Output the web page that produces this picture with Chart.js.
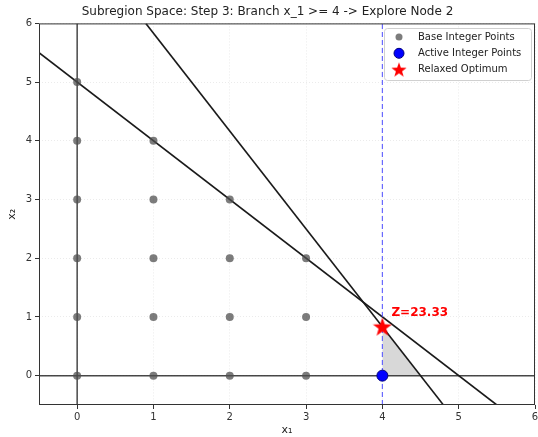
<!DOCTYPE html>
<html>
<head>
<meta charset="utf-8">
<script src="https://cdn.jsdelivr.net/npm/chart.js@4"></script>
<style>
  html, body { margin: 0; padding: 0; background: #fff; }
  #wrap { width: 538px; height: 437px; position: relative; }
</style>
</head>
<body>
<div id="wrap"><canvas id="chart"></canvas></div>
<script>
// Tick labels
const xTicks = [0, 1, 2, 3, 4, 5, 6];
const yTicks = [0, 1, 2, 3, 4, 5, 6];

// Base integer points (feasible lattice)
const baseX = [0, 0, 0, 0, 0, 0, 1, 1, 1, 1, 1, 2, 2, 2, 2, 3, 3, 3];
const baseY = [0, 1, 2, 3, 4, 5, 0, 1, 2, 3, 4, 0, 1, 2, 3, 0, 1, 2];

// Active integer points in this subregion
const activeX = [4];
const activeY = [0];

// Relaxed optimum
const optX = [4];
const optY = [0.833];
const optLabel = 'Z=23.33';

// Constraint lines (endpoints)
const c1X = [-0.5, 5.5];
const c1Y = [5.5, -0.5];
const c2X = [0.9, 4.8];
const c2Y = [6, -0.5];

// Axis lines x=0 / y=0
const axisVX = [0, 0];
const axisVY = [-0.5, 6];
const axisHX = [-0.5, 6];
const axisHY = [0, 0];

// Branch line x_1 = 4
const branchX = [4, 4];
const branchY = [-0.5, 6];

// Shaded subregion upper edge (filled down to y=0)
const regionX = [4, 4.5];
const regionY = [0.833, 0];

const FONT = 'DejaVu Sans';

function pts(xs, ys) {
    return xs.map((x, i) => ({ x: x, y: ys[i] }));
}

// Filled star drawn onto a small canvas, used as point style
function makeStar(size) {
    const c = document.createElement('canvas');
    c.width = size; c.height = size;
    const g = c.getContext('2d');
    const cx = size / 2, cy = size / 2 + size * 0.04;
    const ro = size / 2, ri = ro * 0.4;
    g.beginPath();
    for (let i = 0; i < 10; i++) {
        const r = i % 2 === 0 ? ro : ri;
        const a = -Math.PI / 2 + i * Math.PI / 5;
        g.lineTo(cx + r * Math.cos(a), cy + r * Math.sin(a));
    }
    g.closePath();
    g.fillStyle = '#ff0000';
    g.fill();
    return c;
}

const starBig = makeStar(20);
const starSmall = makeStar(16);

// Frame, optimum label and legend box
const extrasPlugin = {
    id: 'extras',
    afterDatasetsDraw(chart) {
        const ctx = chart.ctx;
        const a = chart.chartArea;
        const xs = chart.scales.x, ys = chart.scales.y;

        // frame
        ctx.save();
        ctx.strokeStyle = '#333';
        ctx.lineWidth = 1;
        ctx.strokeRect(a.left + 0.5, a.top + 0.5, a.right - a.left - 1, a.bottom - a.top - 1);
        ctx.restore();

        // optimum label
        ctx.save();
        ctx.fillStyle = '#ff0000';
        ctx.font = 'bold 12px "' + FONT + '"';
        ctx.textBaseline = 'middle';
        ctx.fillText(optLabel, xs.getPixelForValue(optX[0]) + 9, ys.getPixelForValue(optY[0]) - 14);
        ctx.restore();

        // legend
        const items = [
            { label: 'Base Integer Points', draw: (x, y) => {
                ctx.beginPath(); ctx.arc(x, y, 3.5, 0, Math.PI * 2);
                ctx.fillStyle = 'rgba(80,80,80,0.75)'; ctx.fill();
            } },
            { label: 'Active Integer Points', draw: (x, y) => {
                ctx.beginPath(); ctx.arc(x, y, 5, 0, Math.PI * 2);
                ctx.fillStyle = '#0000ff'; ctx.fill();
                ctx.lineWidth = 1; ctx.strokeStyle = '#00007a'; ctx.stroke();
            } },
            { label: 'Relaxed Optimum', draw: (x, y) => {
                ctx.drawImage(starSmall, x - 8, y - 8);
            } }
        ];
        const bx = 384, by = 28, bw = 147, bh = 52;
        ctx.save();
        ctx.beginPath();
        ctx.roundRect(bx + 0.5, by + 0.5, bw, bh, 3);
        ctx.fillStyle = 'rgba(255,255,255,0.8)';
        ctx.fill();
        ctx.strokeStyle = '#d0d0d0';
        ctx.lineWidth = 1;
        ctx.stroke();
        ctx.font = '10px "' + FONT + '"';
        ctx.textBaseline = 'middle';
        items.forEach((it, i) => {
            const y = by + 9 + i * 16.3;
            it.draw(bx + 15, y);
            ctx.fillStyle = '#222';
            ctx.fillText(it.label, bx + 34, y);
        });
        ctx.restore();
    }
};

const lineBase = {
    type: 'line',
    showLine: true,
    pointRadius: 0,
    fill: false,
    tension: 0
};

new Chart(document.getElementById('chart'), {
    type: 'scatter',
    data: {
        datasets: [
            Object.assign({}, lineBase, {
                label: 'region',
                data: pts(regionX, regionY),
                borderWidth: 0,
                borderColor: 'rgba(0,0,0,0)',
                backgroundColor: 'rgba(190,190,190,0.6)',
                fill: 'origin',
                order: 10
            }),
            Object.assign({}, lineBase, {
                label: 'axisV', data: pts(axisVX, axisVY),
                borderColor: 'rgba(40,40,40,0.85)', borderWidth: 1.5, order: 9
            }),
            Object.assign({}, lineBase, {
                label: 'axisH', data: pts(axisHX, axisHY),
                borderColor: 'rgba(40,40,40,0.85)', borderWidth: 1.5, order: 9
            }),
            Object.assign({}, lineBase, {
                label: 'c1', data: pts(c1X, c1Y),
                borderColor: '#1a1a1a', borderWidth: 1.6, order: 8
            }),
            Object.assign({}, lineBase, {
                label: 'c2', data: pts(c2X, c2Y),
                borderColor: '#1a1a1a', borderWidth: 1.6, order: 8
            }),
            Object.assign({}, lineBase, {
                label: 'branch', data: pts(branchX, branchY),
                borderColor: 'rgba(70,70,255,0.8)', borderWidth: 1.2,
                borderDash: [5, 3], order: 7
            }),
            {
                label: 'Base Integer Points',
                data: pts(baseX, baseY),
                pointRadius: 4,
                pointBackgroundColor: 'rgba(80,80,80,0.75)',
                pointBorderWidth: 0,
                order: 3
            },
            {
                label: 'Active Integer Points',
                data: pts(activeX, activeY),
                pointRadius: 5.5,
                pointBackgroundColor: '#0000ff',
                pointBorderColor: '#00007a',
                pointBorderWidth: 1,
                order: 2
            },
            {
                label: 'Relaxed Optimum',
                data: pts(optX, optY),
                pointStyle: starBig,
                order: 1
            }
        ]
    },
    options: {
        responsive: true,
        maintainAspectRatio: false,
        animation: false,
        layout: { autoPadding: false, padding: { left: 0, right: 3, top: 0, bottom: 0 } },
        plugins: {
            legend: { display: false },
            tooltip: { enabled: false },
            title: {
                display: true,
                text: 'Subregion Space: Step 3: Branch x_1 >= 4 -> Explore Node 2',
                color: '#222',
                font: { family: FONT, size: 12, weight: 'normal' },
                padding: { top: 5, bottom: 4 }
            }
        },
        scales: {
            x: {
                type: 'linear',
                min: -0.5,
                max: 6,
                afterBuildTicks: (s) => { s.ticks = xTicks.map(v => ({ value: v })); },
                afterFit: (s) => { s.height = 32; s.paddingLeft = 0; s.paddingRight = 0; },
                ticks: {
                    color: '#333', font: { family: FONT, size: 10 },
                    padding: 2, maxRotation: 0
                },
                grid: {
                    color: 'rgba(210,210,210,0.55)', lineWidth: 0.8,
                    tickColor: '#333', tickLength: 4, tickWidth: 1
                },
                border: { display: false, dash: [1, 2] },
                title: {
                    display: true, text: 'x₁', color: '#222',
                    font: { family: FONT, size: 11 }, padding: { top: 0, bottom: 0 }
                }
            },
            y: {
                type: 'linear',
                min: -0.5,
                max: 6,
                afterBuildTicks: (s) => { s.ticks = yTicks.map(v => ({ value: v })); },
                afterFit: (s) => { s.width = 39; s.paddingTop = 0; s.paddingBottom = 0; },
                ticks: {
                    color: '#333', font: { family: FONT, size: 10 },
                    padding: 3
                },
                grid: {
                    color: 'rgba(210,210,210,0.55)', lineWidth: 0.8,
                    tickColor: '#333', tickLength: 4, tickWidth: 1
                },
                border: { display: false, dash: [1, 2] },
                title: {
                    display: true, text: 'x₂', color: '#222',
                    font: { family: FONT, size: 11 }, padding: { top: 6, bottom: 1 }
                }
            }
        }
    },
    plugins: [extrasPlugin]
});
</script>
</body>
</html>
